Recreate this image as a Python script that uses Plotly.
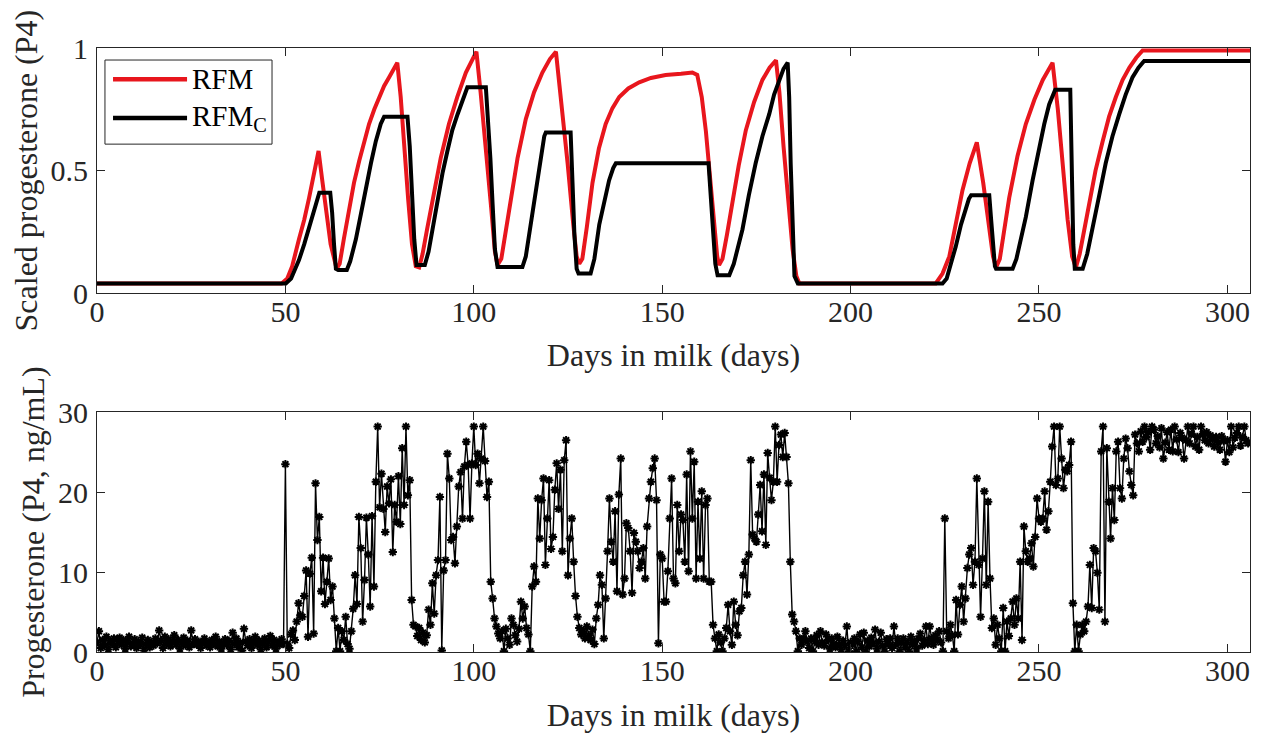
import plotly.graph_objects as go

# ---------------- data ----------------
# Top panel: scaled progesterone from the two models (breakpoints of the curves)
rfm_days = [0, 49, 50.5, 51.8, 53.6, 55, 56.3, 57.6, 58.8, 59.7, 60.7, 62, 63.6, 64.4, 65.5, 66.9,
            68.2, 69.6, 70.9, 72.2, 73.6, 74.9, 76.2, 77.5, 78.7, 79.7, 80.6, 81.6, 82.6, 83.6,
            84.6, 85.5, 86.4, 87.6, 89, 91.2, 93.4, 95.6, 97.9, 99.5, 100.7, 101.8, 103.2, 104.6,
            105.6, 106.3, 107.3, 108.3, 109.4, 111.6, 113.8, 116, 118.2, 120.2, 121.8, 123.3,
            124.9, 126.4, 127.3, 128, 128.8, 130, 131.5, 133.2, 135, 136.8, 138.6, 141, 143.9,
            147, 150.9, 155, 158, 159.3, 160.5, 161.6, 162.8, 163.8, 164.6, 165.1, 166, 167.2,
            168.6, 170.3, 172.2, 174.4, 176.6, 178.5, 180.2, 181.1, 182.2, 183.3, 184.6, 185.6,
            186.4, 222.6, 224.4, 226.2, 228, 229.7, 231.6, 233.5, 235.2, 236.8, 237.8, 238.6,
            239.6, 240.8, 242.1, 244.3, 246.5, 248.8, 251, 252.5, 253.6, 255, 256.3, 257.6,
            258.8, 259.8, 260.8, 262, 263.3, 265, 266.9, 268.6, 270.4, 272.2, 274, 275.8, 277.5, 306]
rfm_vals = [0.04, 0.04, 0.06, 0.11, 0.22, 0.30, 0.39, 0.49, 0.58, 0.47, 0.34, 0.20, 0.10, 0.12, 0.22, 0.35,
            0.45, 0.54, 0.62, 0.69, 0.75, 0.80, 0.845, 0.88, 0.915, 0.94, 0.80, 0.58, 0.38, 0.20,
            0.11, 0.105, 0.16, 0.26, 0.38, 0.55, 0.69, 0.80, 0.90, 0.95, 0.985, 0.82, 0.60, 0.35,
            0.17, 0.115, 0.14, 0.24, 0.35, 0.55, 0.71, 0.82, 0.90, 0.955, 0.985, 0.78,
            0.53, 0.28, 0.15, 0.12, 0.14, 0.27, 0.45, 0.59, 0.69, 0.755, 0.80, 0.835, 0.86,
            0.878, 0.89, 0.895, 0.90, 0.89, 0.80, 0.66, 0.45, 0.26, 0.15, 0.115, 0.14, 0.24,
            0.37, 0.52, 0.665, 0.78, 0.87, 0.92, 0.95, 0.82, 0.60, 0.39, 0.18, 0.07,
            0.04, 0.04, 0.08, 0.15, 0.28, 0.42, 0.53, 0.615, 0.45, 0.26, 0.15, 0.105,
            0.14, 0.26, 0.39, 0.56, 0.69, 0.79, 0.87, 0.91, 0.94, 0.75, 0.53, 0.30,
            0.15, 0.105, 0.16, 0.26, 0.37, 0.50, 0.62, 0.72, 0.80, 0.87, 0.92, 0.96, 0.99, 0.99]

rfmc_days = [0, 50.1, 51.5, 53.6, 55, 56.3, 57.5, 58.5, 59, 61.9, 62.4, 62.9, 63.4, 64, 66.3, 67.2,
             68.7, 70, 71.3, 72.7, 74, 75.3, 76.2, 82.4, 83, 83.6, 84.2, 84.8, 87, 88, 89, 90.4,
             91.7, 93, 94.3, 95.7, 97, 98.3, 103.2, 103.8, 104.4, 105, 105.6, 106.3, 112.9, 113.8,
             114.7, 115.6, 116.7, 117.8, 118.7, 119.1, 125.7, 126.2, 126.7, 127.3, 127.8, 131, 132,
             133.3, 134.6, 135.9, 137, 137.7, 162.3, 162.9, 163.5, 164.1, 164.7, 167.8, 169, 170.2,
             171.3, 173, 174.8, 176.6, 178.4, 179.7, 181, 182.2, 183.3, 183.7, 184.1, 184.6, 185.1,
             186, 224.4, 225.5, 226.7, 227.9, 229.3, 230.6, 231.4, 232, 236.8, 237.3, 237.8, 238.3,
             238.6, 243, 244, 245.2, 246.5, 248.3, 250.1, 251.4, 252.7, 253.6, 254.3, 258.3, 258.7,
             259.1, 259.5, 261.6, 262.8, 264.2, 266, 267.7, 269.5, 271.3, 273, 274.8, 276.4, 277.9, 306]
rfmc_vals = [0.04, 0.04, 0.06, 0.135, 0.20, 0.27, 0.34, 0.39, 0.41, 0.41, 0.33, 0.20, 0.10, 0.095, 0.095, 0.13,
             0.22, 0.32, 0.43, 0.53, 0.62, 0.69, 0.72, 0.72, 0.60, 0.40, 0.22, 0.115, 0.115, 0.17, 0.26, 0.38,
             0.49, 0.58, 0.665, 0.73, 0.79, 0.84, 0.84, 0.72, 0.55, 0.36, 0.18, 0.107, 0.107, 0.15,
             0.24, 0.34, 0.45, 0.56, 0.64, 0.655, 0.655, 0.45, 0.24, 0.10, 0.08, 0.08, 0.14,
             0.28, 0.38, 0.46, 0.51, 0.53, 0.53, 0.40, 0.25, 0.12, 0.073, 0.073, 0.12, 0.19,
             0.26, 0.40, 0.53, 0.64, 0.73, 0.81, 0.87, 0.915, 0.94, 0.80, 0.53, 0.25, 0.07,
             0.04, 0.04, 0.06, 0.12, 0.19, 0.28, 0.35, 0.385, 0.40, 0.40, 0.30, 0.18, 0.11,
             0.10, 0.10, 0.14, 0.22, 0.31, 0.46, 0.60, 0.69, 0.77, 0.81, 0.83, 0.83, 0.53,
             0.20, 0.10, 0.10, 0.16, 0.26, 0.40, 0.53, 0.64, 0.73, 0.81, 0.88, 0.92, 0.947, 0.947]

# Bottom panel: measured progesterone (ng/mL), one sample every half day from day 0
p4_step = 0.5
p4_vals = [
    1.2, 2.6, 0.5, 1.5, 0.8, 1.9, 0.3, 1.4, 1.0, 1.7, 0.6, 1.3, 1.8, 0.9, 1.5, 0.4, 1.2, 1.9, 0.7, 1.1,
    1.6, 0.5, 1.3, 0.9, 1.8, 0.2, 1.0, 1.5, 0.6, 1.2, 0.8, 1.7, 1.1, 2.7, 1.4, 0.5, 1.9, 1.0, 1.6, 0.7,
    1.3, 2.1, 0.9, 1.5, 0.4, 1.2, 1.8, 0.8, 1.4, 0.6, 2.7, 1.0, 1.6, 0.9, 1.3, 0.5, 1.1, 1.7, 0.8, 1.2,
    0.6, 1.5, 1.0, 1.9, 0.7, 1.3, 0.4, 1.1, 1.6, 0.9, 1.4, 0.3, 2.4, 1.0, 1.7, 0.6, 1.2, 0.2, 2.9, 1.3,
    0.8, 1.6, 0.5, 1.2, 1.9, 0.9, 1.4, 0.3, 1.1, 1.7, 0.6, 1.3, 2.0, 0.8, 1.5, 0.4, 1.2, 0.9, 1.6, 1.0,
    23.5, 1.0, 0.5, 2.2, 2.7, 1.5, 3.8, 6.1, 4.6, 4.4, 7.0, 10.2, 1.9, 9.8, 11.8, 2.3, 21.1, 14.0, 16.9, 7.6,
    11.8, 6.0, 8.8, 11.7, 6.5, 8.2, 4.2, 0.1, 3.0, 0.1, 2.6, 1.5, 4.4, 1.0, 0.4, 2.6, 5.4, 9.6, 6.0, 16.9,
    13.0, 3.8, 9.0, 16.8, 12.2, 5.7, 17.0, 8.2, 21.3, 28.2, 18.1, 22.3, 17.9, 15.0, 20.7, 18.6, 21.6, 12.5, 18.4, 16.3,
    22.0, 16.0, 25.5, 18.4, 28.2, 19.6, 21.5, 6.5, 3.4, 3.2, 2.0, 3.0, 1.5, 2.4, 1.2, 2.1, 5.3, 3.4, 8.6, 4.8,
    9.6, 11.5, 19.4, 0.2, 10.2, 11.5, 24.8, 21.7, 14.0, 14.4, 11.1, 15.7, 20.7, 22.5, 16.7, 23.2, 26.3, 23.4, 16.7, 23.6,
    28.2, 23.4, 24.8, 21.1, 24.2, 28.2, 23.9, 19.4, 21.3, 8.8, 6.7, 4.2, 3.2, 2.3, 1.7, 2.6, 0.1, 2.9, 1.7, 0.9,
    4.2, 3.4, 2.1, 1.3, 2.9, 6.3, 4.2, 5.7, 3.0, 2.2, 0.1, 8.2, 10.7, 8.8, 19.2, 14.2, 19.0, 21.7, 10.9, 16.7,
    21.5, 12.9, 14.4, 20.3, 23.6, 17.9, 22.8, 12.6, 24.0, 26.5, 9.6, 14.2, 16.7, 11.3, 7.0, 4.4, 3.0, 2.2, 2.6, 1.7,
    3.2, 2.1, 1.5, 2.8, 1.0, 4.2, 5.9, 9.6, 8.4, 1.7, 6.7, 12.6, 19.2, 13.8, 11.3, 17.6, 7.6, 19.7, 24.2, 7.2,
    9.2, 16.1, 15.5, 12.6, 7.4, 14.9, 13.8, 12.6, 10.5, 11.3, 13.0, 9.2, 15.7, 19.2, 21.3, 23.0, 24.2, 19.0, 1.1, 12.2,
    11.7, 6.3, 6.3, 10.1, 16.7, 21.7, 9.2, 8.6, 18.4, 12.6, 17.2, 16.5, 11.3, 22.2, 10.1, 25.1, 16.7, 23.8, 9.2, 18.8,
    11.7, 20.1, 9.2, 18.4, 19.2, 8.8, 8.8, 3.4, 1.7, 0.1, 2.2, 1.2, 0.1, 1.7, 3.0, 5.9, 2.6, 0.9, 6.3, 3.4,
    2.1, 5.1, 5.5, 9.6, 11.3, 7.2, 12.2, 24.0, 14.7, 14.2, 13.8, 17.2, 20.9, 15.1, 22.2, 13.4, 24.9, 21.8, 19.0, 21.3,
    28.2, 21.3, 25.9, 27.2, 24.4, 27.4, 24.4, 21.1, 11.3, 4.7, 3.8, 2.6, 0.1, 1.7, 0.9, 1.7, 2.6, 1.3, 0.5, 1.7,
    0.1, 1.3, 2.1, 0.9, 2.6, 1.2, 0.8, 2.2, 1.5, 0.4, 1.7, 1.0, 0.6, 1.9, 0.9, 0.3, 1.4, 0.8, 3.2, 0.1,
    1.2, 0.9, 1.7, 0.1, 1.3, 2.2, 0.6, 2.4, 0.1, 1.4, 0.7, 1.8, 1.1, 2.8, 0.4, 1.3, 2.4, 0.8, 0.1, 1.6,
    0.9, 1.7, 0.5, 3.2, 0.9, 1.7, 0.1, 1.2, 1.7, 0.6, 1.2, 0.1, 1.9, 0.9, 1.3, 0.4, 1.7, 2.3, 0.8, 1.5,
    3.2, 1.0, 3.2, 1.7, 0.9, 2.1, 1.5, 2.6, 1.2, 0.1, 16.7, 2.6, 1.7, 3.4, 2.1, 0.1, 6.5, 2.2, 5.9, 8.2,
    3.8, 6.7, 10.5, 12.2, 13.0, 8.4, 11.3, 21.7, 10.9, 4.4, 11.7, 20.1, 8.4, 18.8, 9.2, 3.0, 4.2, 0.9, 3.4, 1.7,
    0.1, 5.5, 0.1, 3.8, 2.0, 4.2, 6.3, 3.4, 6.7, 4.2, 11.3, 1.5, 15.7, 12.6, 11.3, 11.7, 13.6, 10.7, 14.4, 19.2,
    16.7, 16.3, 16.7, 20.1, 15.3, 17.6, 21.3, 25.7, 28.2, 20.9, 21.7, 28.2, 24.2, 20.5, 22.8, 22.6, 23.4, 26.3, 6.1, 0.1,
    3.4, 0.1, 2.2, 3.4, 2.6, 3.8, 5.7, 10.9, 5.5, 13.0, 12.6, 9.9, 5.3, 25.1, 28.2, 3.8, 25.5, 18.8, 14.2, 20.5,
    16.5, 25.1, 26.3, 20.5, 19.2, 24.2, 26.7, 25.5, 22.6, 20.9, 19.6, 27.2, 26.1, 25.1, 27.6, 26.3, 28.2, 26.9, 27.5, 25.3,
    28.2, 27.8, 26.1, 27.0, 25.6, 28.0, 24.2, 26.2, 27.5, 25.3, 27.8, 25.1, 28.2, 26.6, 25.0, 27.4, 26.8, 24.2, 26.5, 28.2,
    26.1, 27.3, 28.2, 25.7, 26.9, 25.3, 28.2, 27.3, 26.5, 27.5, 26.1, 27.1, 26.6, 25.7, 26.9, 26.2, 25.3, 27.0, 26.4, 23.8,
    26.5, 25.0, 28.2, 25.6, 26.8, 27.4, 28.2, 25.8, 26.9, 28.2, 26.5, 26.1,
]
p4_days = [i * p4_step for i in range(len(p4_vals))]

x_ticks = [0, 50, 100, 150, 200, 250, 300]
top_y_ticks = [0, 0.5, 1]
top_y_labels = ["0", "0.5", "1"]
bot_y_ticks = [0, 10, 20, 30]

series_names = ["RFM", "RFM<sub>C</sub>"]

# ---------------- style ----------------
RED = "#E8161D"
AX = "#262626"
FONT = "Liberation Serif, Times New Roman, serif"
TICK_SIZE = 30
TITLE_SIZE = 32

fig = go.Figure()
fig.add_trace(go.Scatter(x=rfm_days, y=rfm_vals, mode="lines", name="RFM",
                         line=dict(color=RED, width=4), xaxis="x", yaxis="y", showlegend=False))
fig.add_trace(go.Scatter(x=rfmc_days, y=rfmc_vals, mode="lines", name="RFM_C",
                         line=dict(color="black", width=4), xaxis="x", yaxis="y", showlegend=False))
fig.add_trace(go.Scatter(x=p4_days, y=p4_vals, mode="lines+markers", name="P4",
                         line=dict(color="black", width=1.4),
                         marker=dict(symbol="asterisk-open", size=7, color="black",
                                     line=dict(color="black", width=2)),
                         xaxis="x2", yaxis="y2", showlegend=False))

axis_common = dict(showline=True, linecolor=AX, linewidth=1, mirror="ticks",
                   ticks="inside", ticklen=8, tickcolor=AX, tickwidth=1,
                   showgrid=False, zeroline=False, automargin=False,
                   tickfont=dict(family=FONT, size=TICK_SIZE, color=AX))

# the page body has an 8 px default margin, so the figure is sized to fit inside it
fig.update_layout(
    width=1248, height=730,
    margin=dict(l=89, r=6, t=40, b=86),
    paper_bgcolor="white", plot_bgcolor="white",
    font=dict(family=FONT, color=AX),
    xaxis=dict(domain=[0, 1], range=[0, 306], anchor="y", tickvals=x_ticks, ticklabelstandoff=-8,
               title=dict(text="Days in milk (days)", font=dict(family=FONT, size=TITLE_SIZE, color=AX), standoff=16),
               **axis_common),
    yaxis=dict(domain=[0.594, 1], range=[0, 1], anchor="x", tickvals=top_y_ticks, ticktext=top_y_labels,
               ticklabelstandoff=2,
               title=dict(text="Scaled progesterone (P4)", font=dict(family=FONT, size=TITLE_SIZE, color=AX), standoff=3),
               **axis_common),
    xaxis2=dict(domain=[0, 1], range=[0, 306], anchor="y2", tickvals=x_ticks, ticklabelstandoff=-8,
                title=dict(text="Days in milk (days)", font=dict(family=FONT, size=TITLE_SIZE, color=AX), standoff=17),
                **axis_common),
    yaxis2=dict(domain=[0, 0.397], range=[0, 30], anchor="x2", tickvals=bot_y_ticks, ticklabelstandoff=2,
                title=dict(text="Progesterone (P4, ng/mL)", font=dict(family=FONT, size=TITLE_SIZE, color=AX), standoff=3),
                **axis_common),
)

# ---------------- legend (drawn in the top panel's domain fractions) ----------------
fig.add_shape(type="rect", xref="x domain", yref="y domain", x0=0.0069, x1=0.1518, y0=0.608, y1=0.951,
              line=dict(color=AX, width=1), fillcolor="white", layer="above")
legend_colors = [RED, "black"]
legend_y = [0.873, 0.715]
for name, col, yy in zip(series_names, legend_colors, legend_y):
    fig.add_shape(type="line", xref="x domain", yref="y domain", x0=0.0139, x1=0.0781, y0=yy, y1=yy,
                  line=dict(color=col, width=4.5), layer="above")
    fig.add_annotation(xref="x domain", yref="y domain", x=0.0805, y=yy, text=name, showarrow=False,
                       xanchor="left", yanchor="middle", font=dict(family=FONT, size=29, color="black"))

fig.write_html("out.html")
